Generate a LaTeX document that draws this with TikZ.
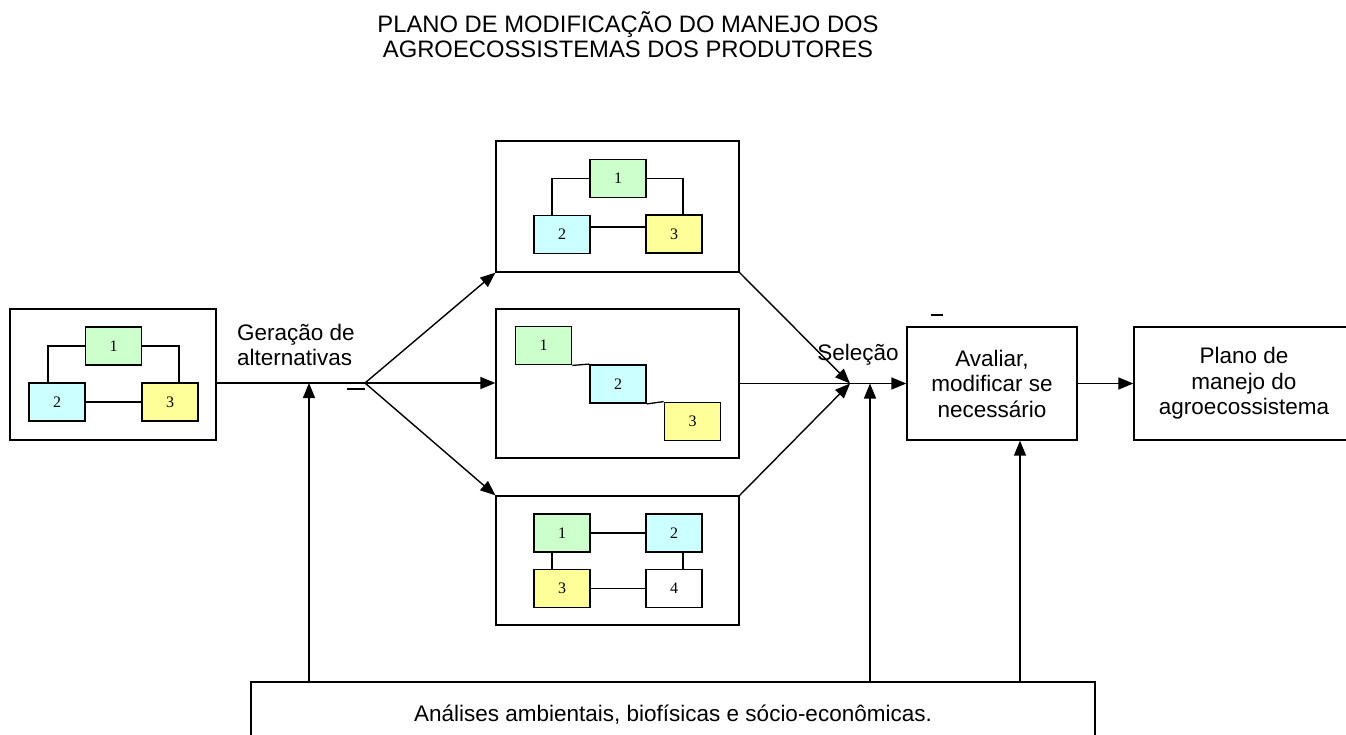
\documentclass[tikz,border=0pt]{standalone}
\usepackage{fontspec}
\setmainfont{Liberation Sans}
\newfontfamily\serifnum{Liberation Serif}
\usetikzlibrary{arrows.meta}
\definecolor{cg}{HTML}{CCFFCC}
\definecolor{cc}{HTML}{CCFFFF}
\definecolor{cy}{HTML}{FFFF99}
\begin{document}
\begin{tikzpicture}[x=1pt,y=-1pt,
  frame/.style={draw, line width=1.3pt, inner sep=0pt},
  sbox/.style={draw, line width=1.8pt, minimum width=56pt, minimum height=38pt, inner sep=0pt, font=\serifnum\fontsize{16}{18}\selectfont},
  lnk/.style={line width=1.3pt},
  arr/.style={line width=1.4pt, -{Triangle[length=15pt,width=12pt]}},
  lbl/.style={font=\fontsize{22.5}{25.5}\selectfont, align=center, inner sep=0pt},
  ttl/.style={font=\fontsize{23.8}{25}\selectfont, align=center, inner sep=0pt},
  tick/.style={line width=1.6pt}]
\useasboundingbox (0,0) rectangle (1346,735);
\clip (0,0) rectangle (1346,735);

% title
\node[ttl] (title) at (628,34.5) {PLANO DE MODIFICAÇÃO DO MANEJO DOS\\AGROECOSSISTEMAS DOS PRODUTORES};

% left box
\node[frame, minimum width=206pt, minimum height=131pt] (L) at (113,374.5) {};
\node[sbox, fill=cg] (L1) at (113.5,346) {1};
\node[sbox, fill=cc] (L2) at (57,402) {2};
\node[sbox, fill=cy] (L3) at (170,402) {3};
\draw[lnk] (L1.west) -| ([xshift=-9pt]L2.north);
\draw[lnk] (L1.east) -| ([xshift=9pt]L3.north);
\draw[lnk] (L2.east) -- (L3.west);

% top box
\node[frame, minimum width=243pt, minimum height=131pt] (T) at (617.5,206.5) {};
\node[sbox, fill=cg] (T1) at (618,178.5) {1};
\node[sbox, fill=cc] (T2) at (562,234.5) {2};
\node[sbox, fill=cy] (T3) at (674,234) {3};
\draw[lnk] (T1.west) -| ([xshift=-10pt]T2.north);
\draw[lnk] (T1.east) -| ([xshift=9pt]T3.north);
\draw[lnk] ([yshift=7.5pt]T2.east) -- ([yshift=7.5pt]T2.east -| T3.west);

% middle box
\node[frame, minimum width=243pt, minimum height=149pt] (M) at (617.5,383.5) {};
\node[sbox, fill=cg] (M1) at (543.5,345.5) {1};
\node[sbox, fill=cc] (M2) at (618,384) {2};
\node[sbox, fill=cy] (M3) at (692.5,421.5) {3};
\draw[lnk] (M1.south east) -- (M2.north west);
\draw[lnk] (M2.south east) -- (M3.north west);

% bottom box
\node[frame, minimum width=243pt, minimum height=129pt] (B) at (617.5,560.5) {};
\node[sbox, fill=cg] (B1) at (562,533) {1};
\node[sbox, fill=cc] (B2) at (674,533) {2};
\node[sbox, fill=cy] (B3) at (562,588.5) {3};
\node[sbox, fill=white] (B4) at (674,588.5) {4};
\draw[lnk] (B1.east) -- (B2.west);
\draw[lnk] (B3.east) -- (B4.west);
\draw[lnk] ([xshift=-10pt]B1.south) -- ([xshift=-10pt]B3.north);
\draw[lnk] ([xshift=9pt]B2.south) -- ([xshift=9pt]B4.north);

% right boxes
\node[frame, lbl, minimum width=170pt, minimum height=113pt] (A) at (992,383.5) {Avaliar,\\modificar se\\necessário};
\node[frame, lbl, minimum width=220pt, minimum height=113pt] (P) at (1244,383.5) {Plano de\\manejo do\\agroecossistema};

% bottom analyses box
\node[frame, minimum width=844pt, minimum height=68pt] (N) at (673,716) {};
\node[lbl] (Ntext) at (673,715) {Análises ambientais, biofísicas e sócio-econômicas.};

% labels
\node[lbl, align=left, anchor=west] (gera) at (237,345) {Geração de\\alternativas};
\node[lbl] (sele) at (858,355) {Seleção};

% connectors
\coordinate (br) at (365,383);
\coordinate (sel) at (850,383.5);
\coordinate (u1) at (309,383);
\coordinate (u2) at (870,383.5);
\coordinate (u3) at (1020,0);
\draw[lnk] (br -| L.east) -- (br);
\draw[arr] (br) -- (T.south west);
\draw[arr] (br) -- (br -| M.west);
\draw[arr] (br) -- (B.north west);
\draw[arr] (T.south east) -- (sel);
\draw[arr] (B.north east) -- (sel);
\draw[arr] (M.east) -- (A.west);
\draw[arr] (A.east) -- (P.west);
\draw[arr] (N.north -| u1) -- (u1);
\draw[arr] (N.north -| u2) -- (u2);
\draw[arr] (N.north -| u3) -- (A.south -| u3);

% stray tick marks
\coordinate (k1a) at (347,389);
\coordinate (k1b) at (365,389);
\coordinate (k2a) at (931,315);
\coordinate (k2b) at (943,315);
\draw[tick] (k1a) -- (k1b);
\draw[tick] (k2a) -- (k2b);
\end{tikzpicture}
\end{document}
